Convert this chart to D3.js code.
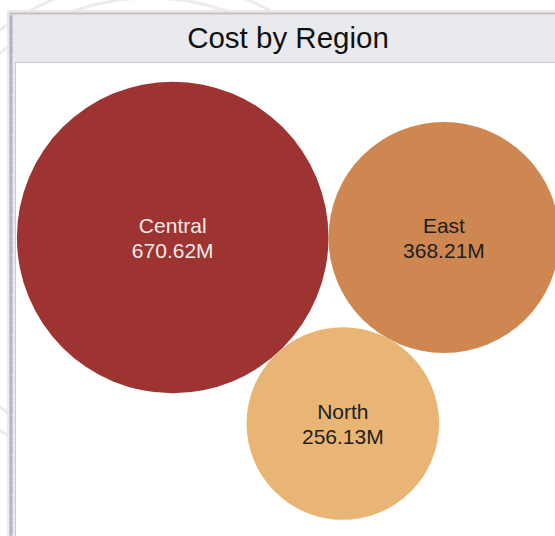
<!DOCTYPE html>
<html>
<head>
<meta charset="utf-8">
<script src="https://cdn.jsdelivr.net/npm/d3@7"></script>
<style>
  body { margin: 0; background: #fff; }
  svg { display: block; font-family: "Liberation Sans", Arial, sans-serif; }
</style>
</head>
<body>
<svg id="chart"></svg>
<script>
const regions = ['Central', 'East', 'North'];
const costs = [670.62, 368.21, 256.13];   // millions
const colors = ['#9e3431', '#cf8751', '#e8b574'];
const labelColors = ['#f3e9e9', '#1e1e1e', '#1e1e1e'];

const width = 555, height = 536;

const svg = d3.select('#chart')
    .attr('width', width)
    .attr('height', height);

// faint watermark behind the frame
const wm = svg.append('g')
    .attr('fill', 'none')
    .attr('stroke', '#ececec')
    .attr('stroke-width', 3);
wm.append('circle').attr('cx', 150).attr('cy', 230).attr('r', 250);
wm.append('circle').attr('cx', 150).attr('cy', 230).attr('r', 232);

// outer frame
svg.append('rect')
    .attr('x', 7).attr('y', 10)
    .attr('width', width - 7).attr('height', height - 10)
    .attr('fill', '#ece9e7');
svg.append('line')
    .attr('x1', 11).attr('x2', 11)
    .attr('y1', 15).attr('y2', height)
    .attr('stroke', '#a9b4c9').attr('stroke-width', 3);
svg.append('line')
    .attr('x1', 11).attr('x2', 11)
    .attr('y1', 15).attr('y2', height)
    .attr('stroke', '#dfe3ea').attr('stroke-width', 1)
    .attr('stroke-dasharray', '1,9');
svg.append('line')
    .attr('x1', 9).attr('x2', width)
    .attr('y1', 13.5).attr('y2', 13.5)
    .attr('stroke', '#c6c2c0').attr('stroke-width', 2);

// header
svg.append('rect')
    .attr('x', 13).attr('y', 15)
    .attr('width', width - 13).attr('height', 47)
    .attr('fill', '#e9eaee');
svg.append('text')
    .attr('x', 288)
    .attr('y', 48)
    .attr('text-anchor', 'middle')
    .attr('font-size', 29.5)
    .attr('fill', '#111')
    .text('Cost by Region');

// inner panel
svg.append('rect')
    .attr('x', 15.5).attr('y', 62.5)
    .attr('width', width).attr('height', height)
    .attr('fill', '#fff')
    .attr('stroke', '#c9c9c9');

// bubbles
const rScale = d3.scaleSqrt()
    .domain([0, d3.max(costs)])
    .range([0, 155.8]);

const nodes = regions.map((r, i) => ({
  region: r, cost: costs[i], color: colors[i], label: labelColors[i], r: rScale(costs[i])
}));
d3.packSiblings(nodes);

// anchor the packed group so the largest bubble sits where it does in the original
const anchor = { x: 172.7, y: 237.5 };
const chart = svg.append('g')
    .attr('transform', `translate(${anchor.x - nodes[0].x},${anchor.y - nodes[0].y})`);

const bubble = chart.selectAll('g.bubble')
    .data(nodes)
    .join('g')
    .attr('class', 'bubble')
    .attr('transform', d => `translate(${d.x},${d.y})`);

bubble.append('circle')
    .attr('r', d => d.r)
    .attr('fill', d => d.color);

bubble.append('text')
    .attr('text-anchor', 'middle')
    .attr('font-size', 21)
    .attr('fill', d => d.label)
    .selectAll('tspan')
    .data(d => [d.region, d.cost.toFixed(2) + 'M'])
    .join('tspan')
    .attr('x', 0)
    .attr('y', (d, i) => i === 0 ? -4.5 : 20)
    .text(d => d);
</script>
</body>
</html>
